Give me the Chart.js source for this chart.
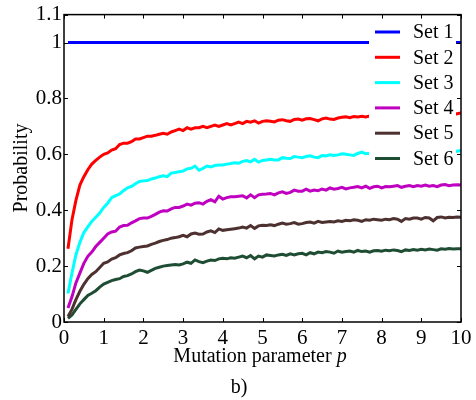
<!DOCTYPE html>
<html>
<head>
<meta charset="utf-8">
<script src="https://cdn.jsdelivr.net/npm/chart.js@4"></script>
<style>
  html, body { margin: 0; padding: 0; background: #fff; }
  canvas { display: block; }
</style>
</head>
<body>
<canvas id="mutationChart" width="476" height="400"></canvas>
<script>
// mutation parameter p (x values)
const P = [
    0.1, 0.2, 0.3, 0.4, 0.5, 0.6, 0.7, 0.8, 0.9, 1.0,
    1.1, 1.2, 1.3, 1.4, 1.5, 1.6, 1.7, 1.8, 1.9, 2.0,
    2.1, 2.2, 2.3, 2.4, 2.5, 2.6, 2.7, 2.8, 2.9, 3.0,
    3.1, 3.2, 3.3, 3.4, 3.5, 3.6, 3.7, 3.8, 3.9, 4.0,
    4.1, 4.2, 4.3, 4.4, 4.5, 4.6, 4.7, 4.8, 4.9, 5.0,
    5.1, 5.2, 5.3, 5.4, 5.5, 5.6, 5.7, 5.8, 5.9, 6.0,
    6.1, 6.2, 6.3, 6.4, 6.5, 6.6, 6.7, 6.8, 6.9, 7.0,
    7.1, 7.2, 7.3, 7.4, 7.5, 7.6, 7.7, 7.8, 7.9, 8.0,
    8.1, 8.2, 8.3, 8.4, 8.5, 8.6, 8.7, 8.8, 8.9, 9.0,
    9.1, 9.2, 9.3, 9.4, 9.5, 9.6, 9.7, 9.8, 9.9, 10.0
];

const SET1 = [
    1, 1, 1, 1, 1, 1, 1, 1, 1, 1,
    1, 1, 1, 1, 1, 1, 1, 1, 1, 1,
    1, 1, 1, 1, 1, 1, 1, 1, 1, 1,
    1, 1, 1, 1, 1, 1, 1, 1, 1, 1,
    1, 1, 1, 1, 1, 1, 1, 1, 1, 1,
    1, 1, 1, 1, 1, 1, 1, 1, 1, 1,
    1, 1, 1, 1, 1, 1, 1, 1, 1, 1,
    1, 1, 1, 1, 1, 1, 1, 1, 1, 1,
    1, 1, 1, 1, 1, 1, 1, 1, 1, 1,
    1, 1, 1, 1, 1, 1, 1, 1, 1, 1
];

const SET2 = [
    .262, .365, .435, .49, .52, .545, .565, .578, .59, .60,
    .605, .615, .62, .635, .64, .64, .645, .655, .655, .66,
    .665, .665, .668, .672, .675, .672, .68, .685, .69, .685,
    .695, .69, .695, .695, .70, .695, .70, .705, .70, .705,
    .71, .705, .71, .715, .71, .718, .715, .72, .712, .718,
    .72, .718, .716, .722, .724, .72, .718, .725, .726, .722,
    .727, .728, .724, .72, .727, .73, .726, .725, .73, .733,
    .734, .731, .735, .734, .736, .734, .737, .736, .738, .737,
    .738, .736, .739, .738, .740, .737, .739, .741, .738, .740,
    .742, .739, .741, .743, .740, .742, .744, .742, .745, .748
];

const SET3 = [
    .102, .175, .24, .285, .32, .34, .36, .375, .39, .41,
    .425, .445, .452, .458, .47, .48, .485, .495, .503, .505,
    .506, .512, .515, .52, .523, .52, .533, .535, .538, .54,
    .548, .55, .558, .543, .55, .558, .555, .56, .562, .562,
    .565, .567, .57, .568, .575, .578, .573, .582, .572, .578,
    .58, .582, .58, .58, .588, .586, .585, .592, .59, .588,
    .592, .595, .59, .588, .596, .594, .598, .596, .598, .602,
    .60, .598, .596, .603, .608, .602, .604, .603, .605, .604,
    .606, .604, .607, .605, .608, .606, .604, .608, .607, .609,
    .608, .610, .607, .609, .611, .608, .610, .612, .611, .614
];

const SET4 = [
    .05, .09, .14, .175, .21, .235, .25, .27, .285, .30,
    .315, .322, .325, .34, .345, .346, .355, .362, .37, .372,
    .372, .378, .385, .393, .398, .397, .405, .41, .41, .415,
    .422, .418, .425, .427, .422, .432, .438, .43, .45, .44,
    .445, .448, .448, .45, .452, .444, .455, .445, .455, .457,
    .458, .46, .455, .462, .466, .46, .464, .472, .468, .468,
    .475, .468, .472, .47, .476, .472, .48, .475, .478, .482,
    .476, .48, .482, .485, .48, .486, .478, .484, .486, .48,
    .485, .484, .486, .488, .482, .486, .488, .484, .488, .486,
    .49, .486, .488, .484, .49, .492, .488, .49, .491, .49
];

const SET5 = [
    .02, .045, .08, .11, .135, .155, .17, .18, .195, .21,
    .215, .225, .23, .24, .245, .248, .255, .265, .268, .27,
    .272, .278, .282, .288, .292, .295, .30, .302, .305, .31,
    .305, .315, .318, .314, .315, .322, .326, .32, .333, .328,
    .33, .332, .334, .336, .34, .336, .345, .335, .344, .346,
    .345, .348, .345, .35, .354, .35, .352, .356, .35, .352,
    .356, .358, .354, .36, .356, .358, .36, .358, .362, .36,
    .364, .362, .366, .364, .36, .366, .364, .368, .366, .364,
    .368, .366, .37, .368, .36, .37, .368, .372, .372, .368,
    .374, .372, .362, .374, .376, .372, .375, .374, .376, .375
];

const SET6 = [
    .013, .025, .045, .065, .08, .095, .103, .112, .125, .136,
    .142, .148, .152, .155, .163, .166, .172, .18, .186, .183,
    .178, .185, .192, .196, .20, .202, .204, .206, .204, .208,
    .214, .21, .222, .216, .212, .218, .222, .22, .226, .228,
    .226, .23, .228, .232, .236, .23, .238, .226, .236, .232,
    .24, .238, .236, .24, .242, .238, .244, .24, .244, .246,
    .24, .248, .244, .25, .248, .252, .25, .246, .254, .25,
    .252, .254, .25, .256, .252, .254, .25, .255, .256, .253,
    .257, .255, .258, .256, .252, .258, .256, .259, .257, .26,
    .258, .261, .259, .257, .262, .26, .263, .261, .262, .262
];

const SERIES_NAMES = ['Set 1', 'Set 2', 'Set 3', 'Set 4', 'Set 5', 'Set 6'];
const SERIES_COLORS = ['#0000ff', '#ff0000', '#00ffff', '#c000c0', '#4d3030', '#1e4d33'];
const X_TICKS = [0, 1, 2, 3, 4, 5, 6, 7, 8, 9, 10];
const Y_TICKS = [0, 0.2, 0.4, 0.6, 0.8, 1, 1.1];

(function () {
    const FONT = 'Liberation Serif';
    const allSeries = [SET1, SET2, SET3, SET4, SET5, SET6];

    const datasets = allSeries.map((vals, i) => ({
        label: SERIES_NAMES[i],
        data: vals.map((v, k) => ({ x: P[k], y: v })),
        borderColor: SERIES_COLORS[i],
        backgroundColor: SERIES_COLORS[i],
        borderWidth: 3,
        pointRadius: 0,
        tension: 0,
        fill: false
    }));

    // white legend box in the upper right, drawn over the lines
    const legendBox = {
        id: 'legendBox',
        afterDatasetsDraw(chart) {
            const ctx = chart.ctx;
            ctx.save();
            ctx.fillStyle = '#fff';
            ctx.fillRect(369, 18, 87, 153);
            ctx.font = `20px "${FONT}"`;
            ctx.textBaseline = 'middle';
            ctx.textAlign = 'left';
            chart.data.datasets.forEach((ds, i) => {
                const yy = 32 + i * 25.3;
                ctx.strokeStyle = ds.borderColor;
                ctx.lineWidth = 3;
                ctx.beginPath();
                ctx.moveTo(375, yy);
                ctx.lineTo(400, yy);
                ctx.stroke();
                ctx.fillStyle = '#000';
                ctx.fillText(ds.label, 413, yy + 1);
            });
            ctx.restore();
        }
    };

    // box frame, inward tick marks, axis titles
    const frame = {
        id: 'frame',
        afterDraw(chart) {
            const { ctx, chartArea: a, scales: { x, y } } = chart;
            ctx.save();
            ctx.strokeStyle = '#000';
            ctx.lineWidth = 1.5;
            ctx.strokeRect(a.left, a.top, a.right - a.left, a.bottom - a.top);
            ctx.lineWidth = 1;
            ctx.beginPath();
            X_TICKS.forEach(v => {
                const px = Math.round(x.getPixelForValue(v)) + 0.5;
                ctx.moveTo(px, a.bottom); ctx.lineTo(px, a.bottom - 4);
                ctx.moveTo(px, a.top); ctx.lineTo(px, a.top + 4);
            });
            Y_TICKS.forEach(v => {
                const py = Math.round(y.getPixelForValue(v)) + 0.5;
                ctx.moveTo(a.left, py); ctx.lineTo(a.left + 4, py);
                ctx.moveTo(a.right, py); ctx.lineTo(a.right - 4, py);
            });
            ctx.stroke();

            ctx.fillStyle = '#000';
            ctx.textBaseline = 'middle';
            // x title with italic p
            const t1 = 'Mutation parameter ';
            ctx.font = `20px "${FONT}"`;
            const w1 = ctx.measureText(t1).width;
            ctx.font = `italic 20px "${FONT}"`;
            const w2 = ctx.measureText('p').width;
            let sx = 260 - (w1 + w2) / 2;
            ctx.textAlign = 'left';
            ctx.font = `20px "${FONT}"`;
            ctx.fillText(t1, sx, 357);
            ctx.font = `italic 20px "${FONT}"`;
            ctx.fillText('p', sx + w1, 357);

            ctx.font = `20px "${FONT}"`;
            ctx.textAlign = 'center';
            ctx.fillText('b)', 239, 388);

            ctx.translate(22, 168);
            ctx.rotate(-Math.PI / 2);
            ctx.fillText('Probability', 0, 0);
            ctx.restore();
        }
    };

    const ctx = document.getElementById('mutationChart').getContext('2d');
    new Chart(ctx, {
        type: 'line',
        data: { datasets },
        options: {
            responsive: false,
            animation: false,
            layout: { padding: { top: 13, right: 15, left: 0, bottom: 0 } },
            plugins: { legend: { display: false }, tooltip: { enabled: false } },
            scales: {
                x: {
                    type: 'linear',
                    min: 0,
                    max: 10,
                    afterBuildTicks: s => { s.ticks = X_TICKS.map(v => ({ value: v })); },
                    afterFit: s => { s.height = 78; },
                    grid: { display: false, drawTicks: false },
                    border: { display: false },
                    ticks: {
                        color: '#000',
                        font: { family: FONT, size: 21 },
                        padding: 4,
                        maxRotation: 0,
                        autoSkip: false,
                        callback: v => String(v)
                    }
                },
                y: {
                    type: 'linear',
                    min: 0,
                    max: 1.1,
                    afterBuildTicks: s => { s.ticks = Y_TICKS.map(v => ({ value: v })); },
                    afterFit: s => { s.width = 64; },
                    grid: { display: false, drawTicks: false },
                    border: { display: false },
                    ticks: {
                        color: '#000',
                        font: { family: FONT, size: 21 },
                        padding: 2,
                        autoSkip: false,
                        callback: v => String(v)
                    }
                }
            }
        },
        plugins: [legendBox, frame]
    });
})();
</script>
</body>
</html>
